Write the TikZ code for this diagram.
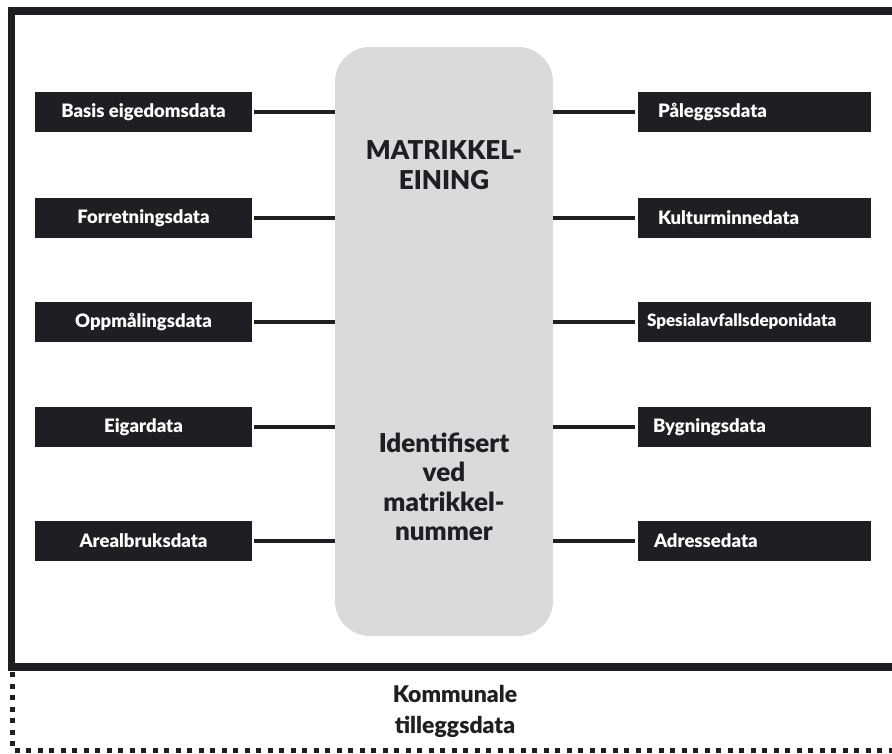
\documentclass[tikz,border=0pt]{standalone}
\usepackage{fontspec}
\setmainfont{Lato}[BoldFont={Lato Black}]
\usepackage{tikz}

\definecolor{boxdark}{HTML}{1E1F22}
\definecolor{midgray}{HTML}{D9DADC}

\begin{document}
\begin{tikzpicture}[x=1pt,y=-1pt,
	leftbox/.style={fill=boxdark,text=white,font=\bfseries\fontsize{18.5}{20}\selectfont,minimum width=217pt,minimum height=40pt,inner sep=0pt},
	rightbox/.style={fill=boxdark,text=white,text width=233pt,align=left,inner xsep=0pt,minimum height=40pt},
	link/.style={boxdark,line width=4.5pt}]
	\useasboundingbox (0,0) rectangle (892,753);
	% outer frame and the dashed part
	\draw[boxdark,line width=7.5pt] (892,11) -- (11.5,11) -- (11.5,667) -- (892,667);
	\draw[boxdark,line width=5pt,dash pattern=on 5pt off 6.5pt] (12,672) -- (12,750) -- (892,750);
	\node[font=\bfseries\fontsize{23}{31}\selectfont,align=center,text=boxdark] (tillegg) at (455,711) {Kommunale\\tilleggsdata};
	% the central unit
	\node[fill=midgray,rounded corners=35pt,minimum width=218pt,minimum height=589pt] (mid) at (444,341.5) {};
	\node[font=\bfseries\fontsize{26}{30}\selectfont,align=center,text=boxdark] (title) at (444,165) {MATRIKKEL-\\EINING};
	\node[font=\bfseries\fontsize{26}{29.5}\selectfont,align=center,text=boxdark] (ident) at (444,487) {Identifisert\\ved\\matrikkel-\\nummer};
	\foreach \y/\t/\n in {112/Basis eigedomsdata/l1,218/Forretningsdata/l2,322/Oppmålingsdata/l3,427/Eigardata/l4,541/Arealbruksdata/l5}
	{
		\node[leftbox] (\n) at (143.5,\y) {\t};
		\draw[link] ([xshift=2pt]\n.east) -- (\n.east -| mid.west);
	}
	\foreach \y/\t/\n/\i/\s in {112/Påleggssdata/r1/20/18.5,218/Kulturminnedata/r2/20/18.5,322/Spesialavfallsdeponidata/r3/9/17,427/Bygningsdata/r4/15/18.5,541/Adressedata/r5/16/18.5}
	{
		\node[rightbox,font=\bfseries\fontsize{\s}{20}\selectfont] (\n) at (754.5,\y) {\hspace*{\i pt}\t};
		\draw[link] ([xshift=-3pt]\n.west) -- (\n.west -| mid.east);
	}
\end{tikzpicture}
\end{document}
